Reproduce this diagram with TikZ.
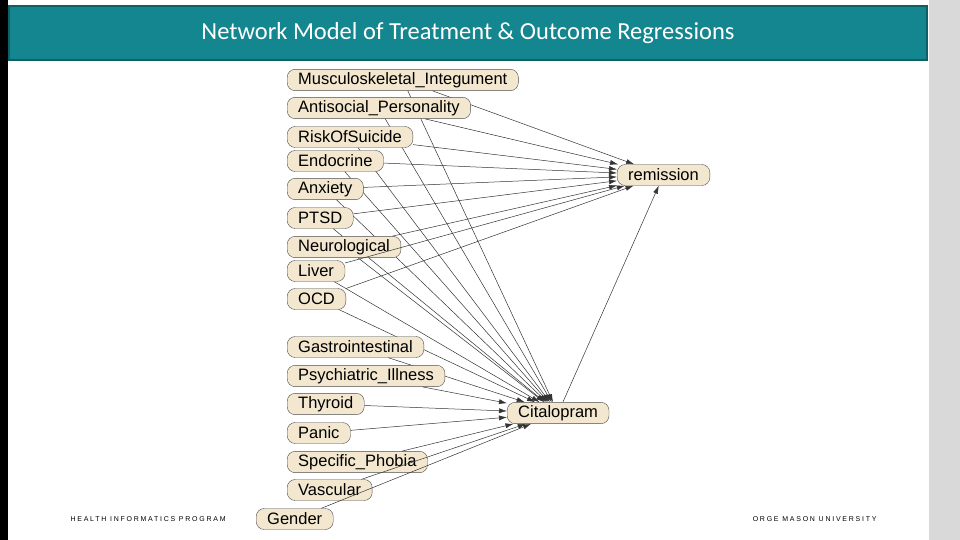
\documentclass[tikz,border=0pt]{standalone}
\usepackage{fontspec}
\setmainfont{Liberation Sans}
\newfontfamily\titlefont{Carlito}
\usetikzlibrary{arrows.meta}
\definecolor{banner}{HTML}{14868F}
\definecolor{bannerdark}{HTML}{0E5F66}
\definecolor{cream}{HTML}{F3E8CF}
\tikzset{
  var/.style={draw=black!70,fill=cream,rounded corners=8pt,anchor=west,
    inner xsep=11pt,inner ysep=3pt,minimum height=21pt,
    font=\fontsize{16.5}{16.5}\selectfont},
  edge/.style={-{Latex[length=8pt,width=5pt]},black!80,line width=0.5pt},
  foot/.style={font=\fontsize{7}{7}\selectfont\addfontfeature{LetterSpace=25}}
}
\begin{document}
\begin{tikzpicture}[x=1pt,y=-1pt]
\useasboundingbox (0,0) rectangle (960,540);
\fill[white] (0,0) rectangle (960,540);
\fill[black] (0,0) rectangle (8,540);
\fill[black!15] (929,0) rectangle (960,540);
\fill[banner,draw=bannerdark,line width=2pt] (9,6) rectangle (927,60);
\node[white,font=\titlefont\fontsize{24.5}{24.5}\selectfont] (title) at (468,33)
  {Network Model of Treatment \& Outcome Regressions};
% footer
\node[foot,anchor=west] (hip) at (67,519) {HEALTH INFORMATICS PROGRAM};
\node[foot,anchor=east] (gmu) at (880,519) {ORGE MASON UNIVERSITY};
% targets
\node[var] (remission) at (617,175) {remission};
\node[var] (citalopram) at (507,413) {Citalopram};
% confounders
\foreach \name/\y in {Musculoskeletal_Integument/80,Antisocial_Personality/108,
    RiskOfSuicide/137,Endocrine/161,Anxiety/189,PTSD/218,Neurological/247,
    Liver/271,OCD/299}{
  \node[var] (\name) at (287,\y) {\detokenize\expandafter{\name}};
  \draw[edge] (\name) -- (remission);
  \draw[edge] (\name) -- (citalopram);
}
% treatment predictors
\foreach \name/\y in {Gastrointestinal/347,Psychiatric_Illness/376,Thyroid/404,
    Panic/433,Specific_Phobia/462,Vascular/490}{
  \node[var] (\name) at (287,\y) {\detokenize\expandafter{\name}};
  \draw[edge] (\name) -- (citalopram);
}
\node[var] (Gender) at (256,519) {Gender};
\draw[edge] (Gender) -- (citalopram);
\draw[edge] (citalopram) -- (remission);
\end{tikzpicture}
\end{document}
